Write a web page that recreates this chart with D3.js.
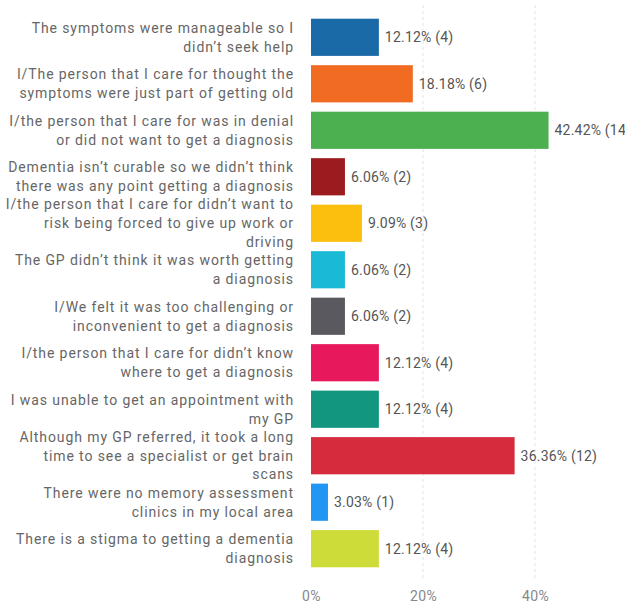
<!DOCTYPE html>
<html lang="en">
<head>
    <meta charset="UTF-8">
    <title>Reasons for not seeking a diagnosis</title>
    <script src="https://cdn.jsdelivr.net/npm/d3@7"></script>
    <style>
        html, body { margin: 0; padding: 0; background: #fff; }
        svg { display: block; font-family: Roboto, "Open Sans", sans-serif; }
    </style>
</head>
<body>
<script>
    // answer options (line breaks as in the original)
    var categories = [
        "The symptoms were manageable so I\ndidn\u2019t seek help",
        "I/The person that I care for thought the\nsymptoms were just part of getting old",
        "I/the person that I care for was in denial\nor did not want to get a diagnosis",
        "Dementia isn\u2019t curable so we didn\u2019t think\nthere was any point getting a diagnosis",
        "I/the person that I care for didn\u2019t want to\nrisk being forced to give up work or\ndriving",
        "The GP didn\u2019t think it was worth getting\na diagnosis",
        "I/We felt it was too challenging or\ninconvenient to get a diagnosis",
        "I/the person that I care for didn\u2019t know\nwhere to get a diagnosis",
        "I was unable to get an appointment with\nmy GP",
        "Although my GP referred, it took a long\ntime to see a specialist or get brain\nscans",
        "There were no memory assessment\nclinics in my local area",
        "There is a stigma to getting a dementia\ndiagnosis"
    ];
    var percents = [12.12, 18.18, 42.42, 6.06, 9.09, 6.06, 6.06, 12.12, 12.12, 36.36, 3.03, 12.12];
    var counts = [4, 6, 14, 2, 3, 2, 2, 4, 4, 12, 1, 4];
    var colors = ["#1a6aa8", "#f26b22", "#4caf50", "#9b1b1e", "#fcbf0e", "#1ab9d6",
        "#5b5960", "#e8185d", "#129680", "#d62a3d", "#2196f3", "#cddc39"];
    var tickValues = [0, 20, 40];

    var width = 625, height = 605;
    var svg = d3.select("body").append("svg")
            .attr("width", width)
            .attr("height", height);

    var x = d3.scaleLinear().domain([0, 50]).range([311, 591]);
    var y = d3.scaleBand().domain(categories).range([9.4, 576.6]).padding(0.2);

    var rows = categories.map(function (c, i) {
        return {label: c, pct: percents[i], n: counts[i], color: colors[i]};
    });

    // dashed grid lines
    svg.append("g").selectAll("line")
            .data(tickValues.filter(function (d) { return d > 0; }))
            .enter().append("line")
            .attr("x1", function (d) { return x(d); })
            .attr("x2", function (d) { return x(d); })
            .attr("y1", 5)
            .attr("y2", 578)
            .style("stroke", "#e3e3e3")
            .style("stroke-dasharray", "3,3");

    // bars
    svg.append("g").selectAll("rect")
            .data(rows)
            .enter().append("rect")
            .attr("x", x(0))
            .attr("y", function (d) { return y(d.label); })
            .attr("width", function (d) { return x(d.pct) - x(0); })
            .attr("height", y.bandwidth())
            .style("fill", function (d) { return d.color; });

    // value labels
    svg.append("g").selectAll("text")
            .data(rows)
            .enter().append("text")
            .attr("x", function (d) { return x(d.pct) + 6; })
            .attr("y", function (d) { return y(d.label) + y.bandwidth() / 2; })
            .attr("dy", "0.35em")
            .style("font-size", "14px")
            .style("letter-spacing", "0.2px")
            .style("fill", "#555")
            .text(function (d) { return d.pct.toFixed(2) + "% (" + d.n + ")"; });

    // category labels, right aligned and centred on the bar
    var lineH = 18.8;
    var cats = svg.append("g").selectAll("text")
            .data(rows)
            .enter().append("text")
            .attr("text-anchor", "end")
            .style("font-size", "14px")
            .style("letter-spacing", "0.9px")
            .style("fill", "#666");
    cats.each(function (d) {
        var lines = d.label.split("\n");
        var cy = y(d.label) + y.bandwidth() / 2 - (lines.length - 1) * lineH / 2;
        d3.select(this).selectAll("tspan")
                .data(lines)
                .enter().append("tspan")
                .attr("x", 294)
                .attr("y", function (l, j) { return cy + j * lineH; })
                .attr("dy", "0.35em")
                .text(function (l) { return l; });
    });

    // x axis tick labels
    var xAxis = d3.axisBottom(x).tickValues(tickValues)
            .tickFormat(function (d) { return d + "%"; })
            .tickSize(0).tickPadding(0);
    var ax = svg.append("g").attr("transform", "translate(0,591)").call(xAxis);
    ax.select(".domain").remove();
    ax.selectAll("text")
            .style("font-family", "Roboto, sans-serif")
            .style("font-size", "14px")
            .style("letter-spacing", "0.4px")
            .style("fill", "#888");
</script>
</body>
</html>
